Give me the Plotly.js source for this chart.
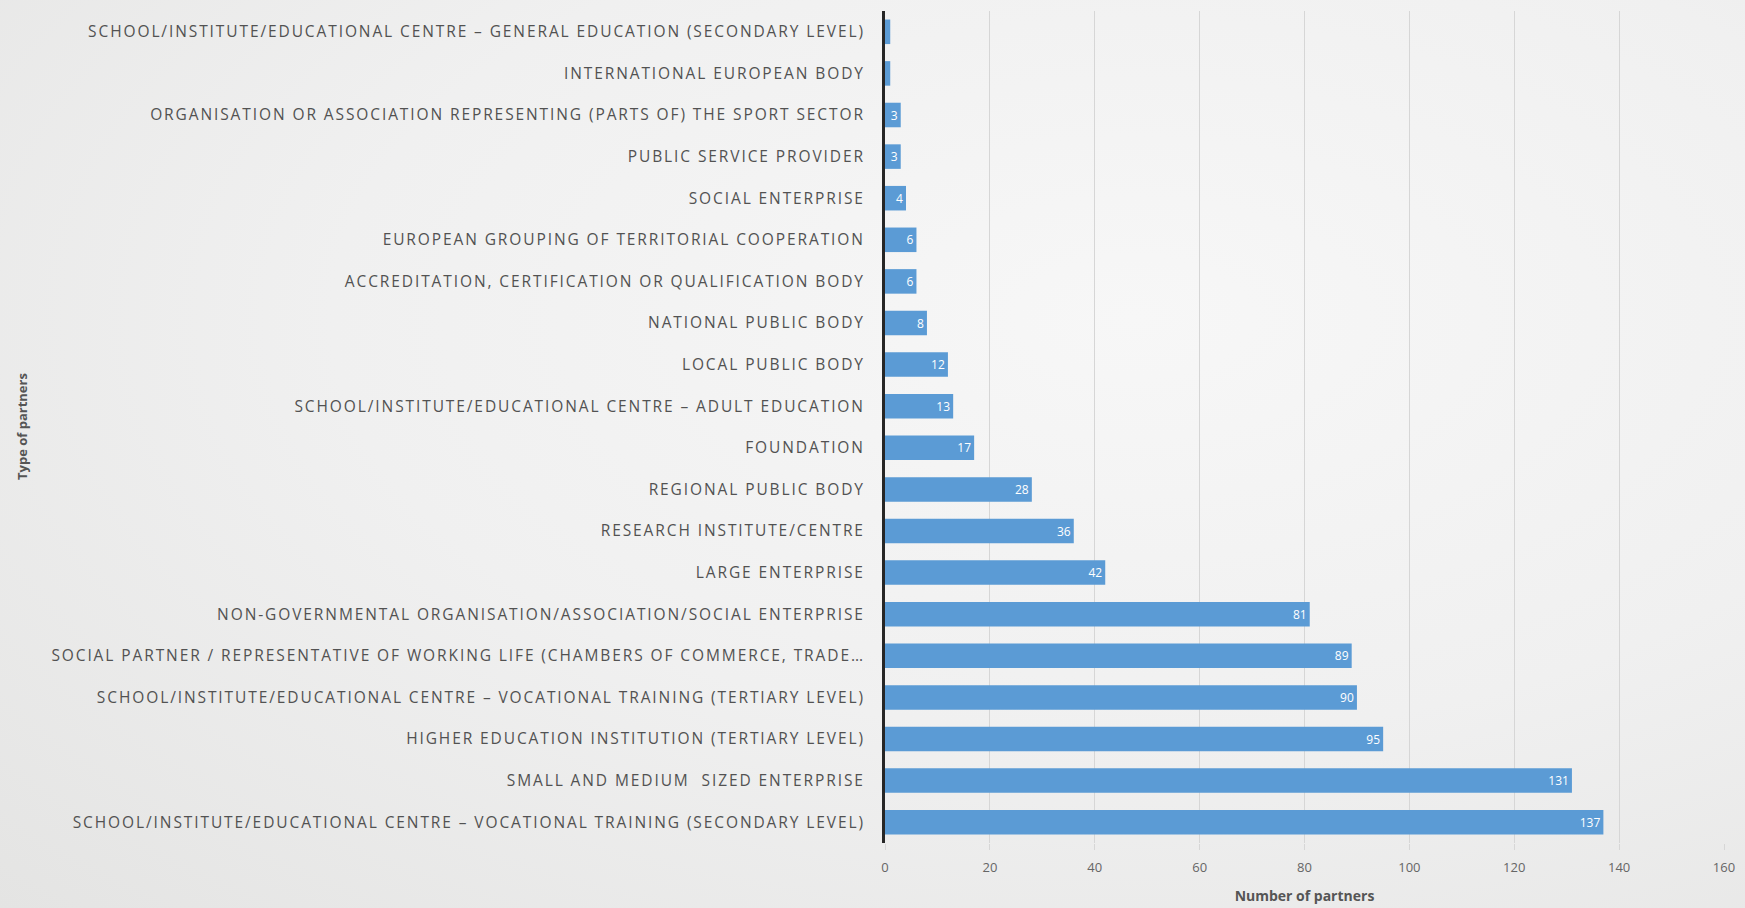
<!DOCTYPE html>
<html>
<head>
<meta charset="utf-8">
<script src="https://cdn.plot.ly/plotly-3.0.1.min.js"></script>
<style>
html,body{margin:0;padding:0;}
body{width:1745px;height:908px;overflow:hidden;background:radial-gradient(ellipse at 65% 35%, #f7f7f7 0%, #f0f0f0 50%, #e4e4e3 100%);}
#chart{width:1745px;height:908px;}
#chart .ytick text{letter-spacing:1.9px;}
</style>
</head>
<body>
<div id="chart"></div>
<script>
const categories = [
  "SCHOOL/INSTITUTE/EDUCATIONAL CENTRE – GENERAL EDUCATION (SECONDARY LEVEL)",
  "INTERNATIONAL EUROPEAN BODY",
  "ORGANISATION OR ASSOCIATION REPRESENTING (PARTS OF) THE SPORT SECTOR",
  "PUBLIC SERVICE PROVIDER",
  "SOCIAL ENTERPRISE",
  "EUROPEAN GROUPING OF TERRITORIAL COOPERATION",
  "ACCREDITATION, CERTIFICATION OR QUALIFICATION BODY",
  "NATIONAL PUBLIC BODY",
  "LOCAL PUBLIC BODY",
  "SCHOOL/INSTITUTE/EDUCATIONAL CENTRE – ADULT EDUCATION",
  "FOUNDATION",
  "REGIONAL PUBLIC BODY",
  "RESEARCH INSTITUTE/CENTRE",
  "LARGE ENTERPRISE",
  "NON-GOVERNMENTAL ORGANISATION/ASSOCIATION/SOCIAL ENTERPRISE",
  "SOCIAL PARTNER / REPRESENTATIVE OF WORKING LIFE (CHAMBERS OF COMMERCE, TRADE…",
  "SCHOOL/INSTITUTE/EDUCATIONAL CENTRE – VOCATIONAL TRAINING (TERTIARY LEVEL)",
  "HIGHER EDUCATION INSTITUTION (TERTIARY LEVEL)",
  "SMALL AND MEDIUM  SIZED ENTERPRISE",
  "SCHOOL/INSTITUTE/EDUCATIONAL CENTRE – VOCATIONAL TRAINING (SECONDARY LEVEL)"
];
const partners = [1, 1, 3, 3, 4, 6, 6, 8, 12, 13, 17, 28, 36, 42, 81, 89, 90, 95, 131, 137];
const xTickValues = [0, 20, 40, 60, 80, 100, 120, 140, 160];
const xTitle = "Number of partners";
const yTitle = "Type of partners";

const trace = {
  type: "bar",
  orientation: "h",
  x: partners,
  y: categories,
  marker: {color: "#5b9bd5"},
  text: partners.map(String),
  textposition: "inside",
  insidetextanchor: "end",
  textfont: {color: "#ffffff", size: 12, family: "Open Sans"},
  cliponaxis: false,
  hoverinfo: "x+y"
};

const layout = {
  width: 1745,
  height: 908,
  margin: {l: 885, r: 21, t: 11, b: 65},
  paper_bgcolor: "rgba(0,0,0,0)",
  plot_bgcolor: "rgba(0,0,0,0)",
  bargap: 0.41,
  showlegend: false,
  uniformtext: {mode: "hide", minsize: 11},
  font: {family: "Open Sans", color: "#595959"},
  xaxis: {
    range: [0, 160],
    tickvals: xTickValues,
    ticktext: xTickValues.map(String),
    showgrid: true,
    gridcolor: "#d6d6d6",
    gridwidth: 1,
    zeroline: false,
    showline: false,
    ticks: "outside",
    ticklen: 6,
    tickcolor: "#d6d6d6",
    ticklabelstandoff: 6,
    tickfont: {size: 13, color: "#666666", family: "Open Sans"},
    title: {text: xTitle, font: {size: 14, color: "#555555", family: "Open Sans", weight: "bold"}, standoff: 16}
  },
  yaxis: {
    autorange: "reversed",
    showgrid: false,
    zeroline: false,
    showline: true,
    linecolor: "#262626",
    linewidth: 3,
    ticks: "",
    ticklabelstandoff: 14,
    tickfont: {size: 15.5, color: "#525252", family: "Open Sans"},
    automargin: false
  },
  annotations: [{
    text: "<b>" + yTitle + "</b>",
    xref: "paper", yref: "paper",
    x: (22 - 885) / (1745 - 885 - 21),
    y: 0.5,
    xanchor: "center", yanchor: "middle",
    textangle: -90,
    showarrow: false,
    font: {size: 13, color: "#555555", family: "Open Sans"}
  }]
};

Plotly.newPlot("chart", [trace], layout, {displayModeBar: false, staticPlot: true});
</script>
</body>
</html>
